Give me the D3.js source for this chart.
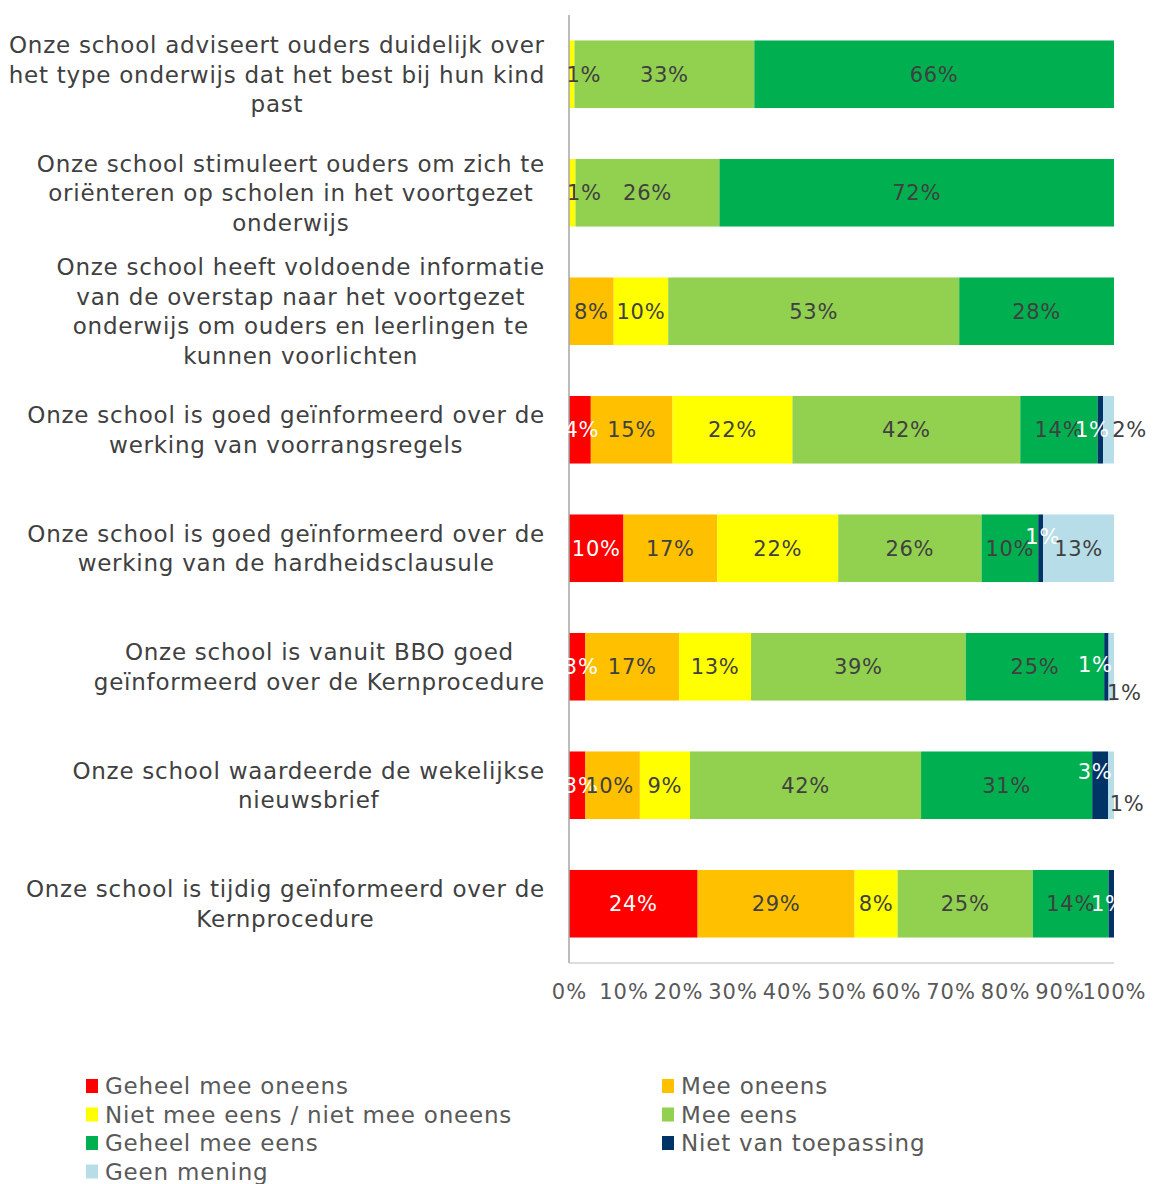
<!DOCTYPE html>
<html>
<head>
<meta charset="utf-8">
<script src="https://cdn.jsdelivr.net/npm/d3@7"></script>
<style>
  body { margin: 0; background: #fff; }
  text { font-family: "DejaVu Sans", Verdana, sans-serif; }
</style>
</head>
<body>
<div id="chart"></div>
<script>
// category labels, already broken into lines as in the original
var categories = [
    ["Onze school adviseert ouders duidelijk over", "het type onderwijs dat het best bij hun kind", "past"],
    ["Onze school stimuleert ouders om zich te", "oriënteren op scholen in het voortgezet", "onderwijs"],
    ["Onze school heeft voldoende informatie", "van de overstap naar het voortgezet", "onderwijs om ouders en leerlingen te", "kunnen voorlichten"],
    ["Onze school is goed geïnformeerd over de", "werking van voorrangsregels"],
    ["Onze school is goed geïnformeerd over de", "werking van de hardheidsclausule"],
    ["Onze school is vanuit BBO goed", "geïnformeerd over de Kernprocedure"],
    ["Onze school waardeerde de wekelijkse", "nieuwsbrief"],
    ["Onze school is tijdig geïnformeerd over de", "Kernprocedure"]
];

var seriesNames = ["Geheel mee oneens", "Mee oneens", "Niet mee eens / niet mee oneens",
    "Mee eens", "Geheel mee eens", "Niet van toepassing", "Geen mening"];

// percentages per series, one value per category (top to bottom)
var geheelMeeOneens = [0, 0, 0, 4, 10, 3, 3, 23.6];
var meeOneens       = [0, 0, 8.2, 15, 17.2, 17.2, 10, 28.8];
var neutraal        = [1, 1.2, 10, 22, 22.2, 13.2, 9.2, 7.9];
var meeEens         = [33, 26.4, 53.4, 41.8, 26.3, 39.4, 42.4, 24.8];
var geheelMeeEens   = [66, 72.4, 28.4, 14.2, 10.4, 25.4, 31.4, 13.9];
var nietVanToep     = [0, 0, 0, 1, 0.9, 0.8, 2.9, 1];
var geenMening      = [0, 0, 0, 2, 13, 1, 1.1, 0];

var xTicks = [0, 10, 20, 30, 40, 50, 60, 70, 80, 90, 100];

var seriesValues = [geheelMeeOneens, meeOneens, neutraal, meeEens, geheelMeeEens, nietVanToep, geenMening];
var colors = ["#FF0000", "#FFC000", "#FFFF00", "#92D050", "#00B050", "#003366", "#B7DEE8"];
var labelColors = ["#fff", "#404040", "#404040", "#404040", "#404040", "#fff", "#404040"];

// hand-moved data labels (row,series) like in the Excel original
var nudges = {
    "0,2": {dx: 12, dy: 0}, "1,2": {dx: 12, dy: 0},
    "3,0": {dx: 2, dy: 0},
    "3,5": {dx: -8, dy: 0}, "3,6": {dx: 21, dy: 0},
    "4,5": {dx: 2, dy: -12},
    "5,0": {dx: 4, dy: 0},
    "5,5": {dx: -11, dy: -2}, "5,6": {dx: 13, dy: 26},
    "6,0": {dx: 4, dy: 0}, "6,1": {dx: -3, dy: 0},
    "6,5": {dx: -5, dy: -14}, "6,6": {dx: 16, dy: 18},
    "7,5": {dx: -3, dy: 0, clip: true}
};

var W = 1156, H = 1184;
var margin = {top: 15, right: 42, bottom: 221, left: 569};
var width = W - margin.left - margin.right;
var height = H - margin.top - margin.bottom;

var rows = categories.map(function(c, i){
    var r = {i: i};
    seriesValues.forEach(function(s, k){ r[k] = s[i]; });
    return r;
});
var keys = d3.range(seriesNames.length);
var stacked = d3.stack().keys(keys)(rows);

var x = d3.scaleLinear().domain([0, 100]).range([0, width]);
var y = d3.scaleBand().domain(d3.range(categories.length)).range([0, height]).paddingInner(0.43).paddingOuter(0.215);

var svg = d3.select("#chart").append("svg")
    .attr("width", W)
    .attr("height", H)
  .append("g")
    .attr("transform", "translate(" + margin.left + "," + margin.top + ")");

svg.append("defs").append("clipPath").attr("id", "plotclip")
  .append("rect").attr("x", 0).attr("y", 0).attr("width", width).attr("height", height);

// bars
var layers = svg.selectAll("g.layer")
    .data(stacked)
    .enter().append("g")
    .attr("class", "layer")
    .attr("fill", function(d){ return colors[d.key]; });

layers.selectAll("rect")
    .data(function(d){ return d; })
    .enter().append("rect")
    .attr("x", function(d){ return x(d[0]); })
    .attr("width", function(d){ return x(d[1]) - x(d[0]); })
    .attr("y", function(d){ return y(d.data.i); })
    .attr("height", y.bandwidth());

// axes
svg.append("line")
    .attr("x1", 0).attr("x2", 0).attr("y1", 0).attr("y2", height)
    .attr("stroke", "#A6A6A6").attr("stroke-width", 1.5);
svg.append("line")
    .attr("x1", 0).attr("x2", width).attr("y1", height).attr("y2", height)
    .attr("stroke", "#D0D0D0").attr("stroke-width", 1.5);

var xAxis = svg.append("g")
    .attr("transform", "translate(0," + height + ")")
    .call(d3.axisBottom(x).tickValues(xTicks).tickSize(0).tickPadding(21)
        .tickFormat(function(d){ return d + "%"; }));
xAxis.select(".domain").remove();
xAxis.selectAll("text")
    .attr("fill", "#595959")
    .style("font-size", "21px")
    .style("letter-spacing", "1px")
    .style("font-family", "'DejaVu Sans', sans-serif");

// data labels, on top of all bars
var labelG = svg.append("g").attr("class", "labels");
stacked.forEach(function(layer){
    var k = layer.key;
    labelG.append("g").selectAll("text")
        .data(layer.filter(function(d){ return d[1] - d[0] > 0; }))
        .enter().append("text")
        .attr("x", function(d){
            var n = nudges[d.data.i + "," + k];
            return (x(d[0]) + x(d[1])) / 2 + (n ? n.dx : 0);
        })
        .attr("y", function(d){
            var n = nudges[d.data.i + "," + k];
            return y(d.data.i) + y.bandwidth() / 2 + (n ? n.dy : 0);
        })
        .attr("dy", "0.36em")
        .attr("text-anchor", "middle")
        .attr("fill", labelColors[k])
        .attr("clip-path", function(d){
            var n = nudges[d.data.i + "," + k];
            return n && n.clip ? "url(#plotclip)" : null;
        })
        .style("font-size", "21px")
        .style("letter-spacing", "0.7px")
        .text(function(d){ return Math.round(d[1] - d[0]) + "%"; });
});

// category labels: block right aligned, lines centered inside it
var lineH = 29.5;
var catG = svg.append("g").attr("class", "cats");
categories.forEach(function(lines, i){
    var t = catG.append("text")
        .attr("fill", "#404040")
        .attr("text-anchor", "middle")
        .style("font-size", "23px")
        .style("letter-spacing", "0.75px");
    lines.forEach(function(l, j){
        t.append("tspan")
            .attr("y", y(i) + y.bandwidth() / 2 + (j - (lines.length - 1) / 2) * lineH)
            .attr("dy", "0.36em")
            .text(l);
    });
    var wmax = d3.max(t.selectAll("tspan").nodes(), function(n){ return n.getComputedTextLength(); });
    t.selectAll("tspan").attr("x", -24 - wmax / 2);
});

// legend
var legend = d3.select("svg").append("g").attr("transform", "translate(86,1086)");
seriesNames.forEach(function(name, k){
    var g = legend.append("g")
        .attr("transform", "translate(" + (k % 2) * 576 + "," + Math.floor(k / 2) * 28.5 + ")");
    g.append("rect").attr("x", 0).attr("y", -7).attr("width", 12).attr("height", 14).attr("fill", colors[k]);
    g.append("text").attr("x", 19).attr("dy", "0.36em")
        .attr("fill", "#595959")
        .style("font-size", "23px")
        .style("letter-spacing", "0.8px")
        .text(name);
});
</script>
</body>
</html>
